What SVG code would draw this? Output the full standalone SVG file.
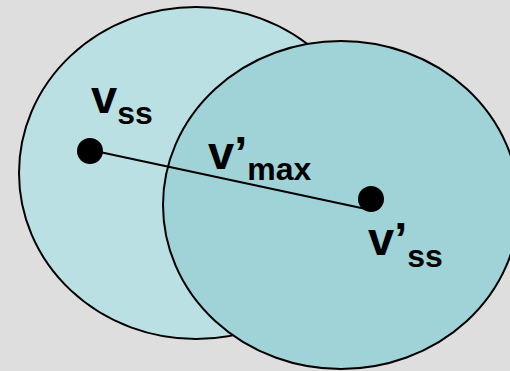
<svg xmlns="http://www.w3.org/2000/svg" width="510" height="371" viewBox="0 0 510 371">
<style>
.lbl{font-family:"Liberation Sans",Arial,sans-serif;font-weight:bold;font-size:47px;fill:#000}
.sub{font-size:32px}
.edge{stroke:#000;stroke-width:2}
</style>
<rect x="0" y="0" width="510" height="371" fill="#dedede"/>
<g id="region-ss">
<ellipse cx="196" cy="173" rx="177" ry="166" fill="#bae0e3" stroke="#000" stroke-width="2"/>
</g>
<g id="region-ss-prime">
<ellipse cx="341" cy="205" rx="178" ry="164" fill="#9fd3d8" stroke="#000" stroke-width="2"/>
</g>
<g id="connectors">
<line class="edge" x1="95" y1="151" x2="366" y2="209"/>
</g>
<g id="node-vss">
<circle cx="90" cy="151" r="13" fill="#000"/>
<text class="lbl" x="91" y="113">v<tspan class="sub" dy="11">ss</tspan></text>
</g>
<g id="node-vss-prime">
<circle cx="371" cy="199" r="13" fill="#000"/>
<text class="lbl" x="368" y="255">v’<tspan class="sub" dy="12">ss</tspan></text>
</g>
<g id="label-vmax">
<text class="lbl" x="208" y="169">v’<tspan class="sub" dy="11">max</tspan></text>
</g>
</svg>
